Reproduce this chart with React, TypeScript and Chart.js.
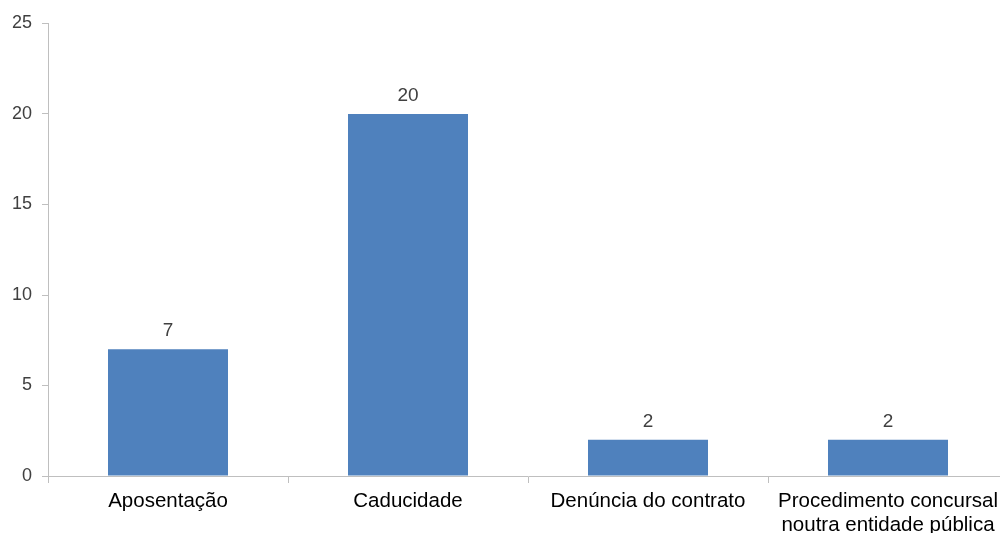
import React, { useEffect, useRef } from "react";
import { Chart, registerables } from "chart.js";

Chart.register(...registerables);

const categories: (string | string[])[] = [
  "Aposentação",
  "Caducidade",
  "Denúncia do contrato",
  ["Procedimento concursal", "noutra entidade pública"],
];
const values = [7, 20, 2, 2];
const yTicks = [0, 5, 10, 15, 20, 25];

const FONT = "'Liberation Sans', Arial, sans-serif";

const valueLabels = {
  id: "valueLabels",
  afterDatasetsDraw(chart: any) {
    const ctx = chart.ctx;
    const meta = chart.getDatasetMeta(0);
    ctx.save();
    ctx.font = `19px ${FONT}`;
    ctx.fillStyle = "#404040";
    ctx.textAlign = "center";
    ctx.textBaseline = "alphabetic";
    meta.data.forEach((bar: any, i: number) => {
      ctx.fillText(String(values[i]), bar.x, bar.y - 13);
    });
    ctx.restore();
  },
};

export default function App() {
  const ref = useRef<HTMLCanvasElement>(null);
  useEffect(() => {
    document.body.style.margin = "0";
    const chart = new Chart(ref.current!, {
      type: "bar",
      data: {
        labels: categories,
        datasets: [
          {
            data: values,
            backgroundColor: "#4F81BD",
            borderWidth: 0,
            barPercentage: 0.5,
            categoryPercentage: 1,
          },
        ],
      },
      options: {
        animation: false,
        responsive: false,
        devicePixelRatio: 1,
        layout: { padding: { top: 23.5, right: 0, left: 0, bottom: 0 } },
        plugins: { legend: { display: false }, tooltip: { enabled: false } },
        scales: {
          x: {
            grid: {
              offset: true,
              drawOnChartArea: false,
              tickLength: 7,
              color: "#bfbfbf",
            },
            border: { color: "#bfbfbf", width: 1 },
            ticks: {
              font: { family: FONT, size: 20.5, lineHeight: 1.17 },
              color: "#000000",
              padding: 6,
              maxRotation: 0,
              autoSkip: false,
            },
            afterFit(scale: any) {
              scale.height = 57;
            },
          },
          y: {
            min: 0,
            max: 25,
            afterBuildTicks(scale: any) {
              scale.ticks = yTicks.map((v) => ({ value: v }));
            },
            grid: {
              drawOnChartArea: false,
              tickLength: 6,
              color: "#bfbfbf",
            },
            border: { color: "#bfbfbf", width: 1 },
            ticks: {
              font: { family: FONT, size: 18 },
              color: "#404040",
              padding: 10,
            },
            afterFit(scale: any) {
              scale.width = 48;
            },
          },
        },
      },
      plugins: [valueLabels],
    });
    return () => chart.destroy();
  }, []);
  return (
    <div style={{ width: 1000, height: 533, overflow: "hidden", position: "relative" }}>
      <canvas ref={ref} width={1008} height={533} style={{ display: "block" }} />
    </div>
  );
}
